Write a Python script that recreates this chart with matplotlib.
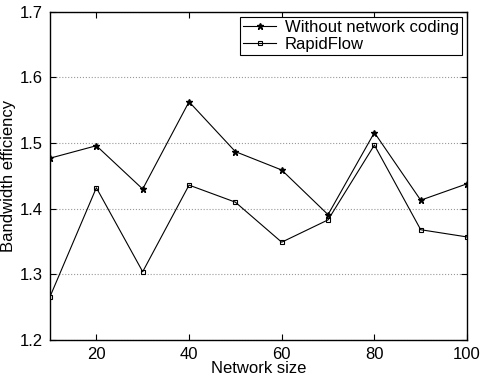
import matplotlib
matplotlib.use('Agg')
import matplotlib.pyplot as plt

plt.rcParams['font.family'] = ['Liberation Sans', 'DejaVu Sans']

sizes = [10, 20, 30, 40, 50, 60, 70, 80, 90, 100]
without_nc = [1.477, 1.496, 1.430, 1.563, 1.487, 1.459, 1.391, 1.516, 1.413, 1.438]
rapidflow = [1.266, 1.432, 1.304, 1.436, 1.410, 1.349, 1.383, 1.497, 1.368, 1.357]
xticks = [20, 40, 60, 80, 100]
yticks = [1.2, 1.3, 1.4, 1.5, 1.6, 1.7]

fig, ax = plt.subplots(figsize=(4.81, 3.82), dpi=100)
fig.subplots_adjust(left=0.104, right=0.971, top=0.969, bottom=0.11)

ax.plot(sizes, without_nc, color='black', lw=0.8, marker='*', ms=4.5,
        label='Without network coding')
ax.plot(sizes, rapidflow, color='black', lw=0.8, marker='s', ms=3.5,
        mfc='none', mew=0.8, label='RapidFlow')

ax.set(xlim=(10, 100), ylim=(1.2, 1.7))
ax.set_xticks(xticks)
ax.set_yticks(yticks)
ax.yaxis.grid(True, linestyle=':', color='#999999', lw=0.8)
ax.tick_params(direction='in', top=True, right=True, labelsize=12, length=4, pad=5)
for s in ax.spines.values():
    s.set_linewidth(1.0)

ax.set_xlabel('Network size', fontsize=12, labelpad=-1)
ax.set_ylabel('Bandwidth efficiency', fontsize=12, labelpad=3)

leg = ax.legend(loc='upper right', fontsize=12, fancybox=False, edgecolor='black',
                framealpha=1, borderaxespad=0.3, handlelength=2.0, borderpad=0.2,
                labelspacing=0.1, handletextpad=0.5)
leg.get_frame().set_linewidth(0.8)

plt.savefig('out.png')
